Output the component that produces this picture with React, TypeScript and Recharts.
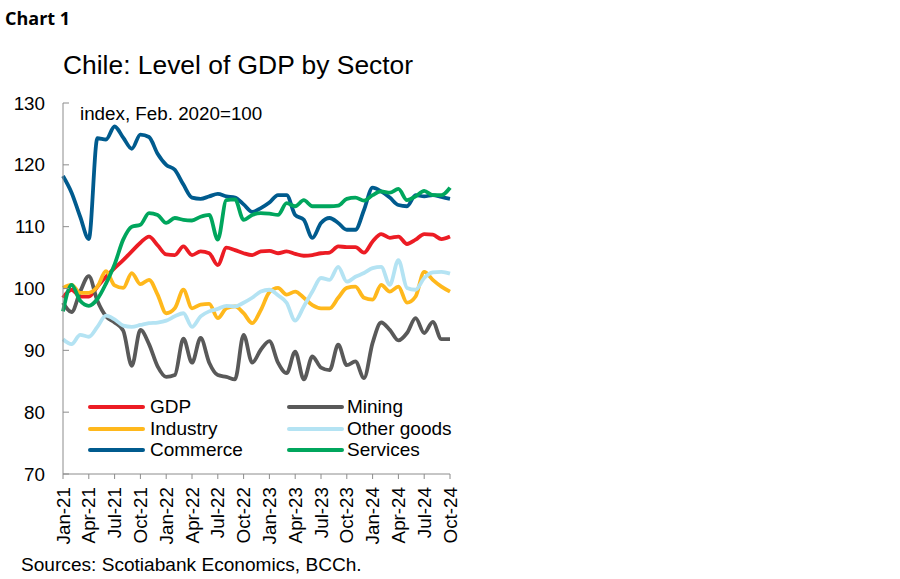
import React from 'react';
import { LineChart, Line, XAxis, YAxis } from 'recharts';

const months = [
  'Jan-21', 'Feb-21', 'Mar-21', 'Apr-21', 'May-21', 'Jun-21', 'Jul-21', 'Aug-21', 'Sep-21', 'Oct-21', 'Nov-21', 'Dec-21',
  'Jan-22', 'Feb-22', 'Mar-22', 'Apr-22', 'May-22', 'Jun-22', 'Jul-22', 'Aug-22', 'Sep-22', 'Oct-22', 'Nov-22', 'Dec-22',
  'Jan-23', 'Feb-23', 'Mar-23', 'Apr-23', 'May-23', 'Jun-23', 'Jul-23', 'Aug-23', 'Sep-23', 'Oct-23', 'Nov-23', 'Dec-23',
  'Jan-24', 'Feb-24', 'Mar-24', 'Apr-24', 'May-24', 'Jun-24', 'Jul-24', 'Aug-24', 'Sep-24', 'Oct-24',
];

const gdp = [
  98.5, 99.8, 98.7, 98.7, 100.3, 101.9, 103.3, 104.6, 106.0, 107.4, 108.4, 107.0,
  105.5, 105.4, 106.8, 105.4, 106.0, 105.7, 103.8, 106.6, 106.2, 105.7, 105.4, 106.0,
  106.1, 105.7, 106.0, 105.6, 105.3, 105.4, 105.7, 105.8, 106.8, 106.7, 106.7, 105.8,
  107.6, 108.8, 108.2, 108.4, 107.2, 107.9, 108.8, 108.7, 108.0, 108.4,
];

const mining = [
  97.7, 96.2, 99.5, 102.0, 98.0, 95.5, 94.5, 93.2, 87.5, 93.3, 91.0, 87.4,
  85.7, 86.0, 91.9, 88.0, 92.0, 88.0, 86.0, 85.7, 85.3, 92.5, 88.0, 90.1,
  91.5, 88.0, 86.3, 89.8, 85.3, 89.0, 87.2, 86.8, 90.9, 87.6, 88.2, 85.5,
  91.2, 94.5, 93.3, 91.6, 92.8, 95.2, 92.8, 94.6, 91.8, 91.8,
];

const industry = [
  100.1, 100.6, 99.3, 99.3, 100.3, 102.8, 100.5, 100.1, 102.5, 100.7, 101.4, 99.0,
  96.0, 96.8, 99.8, 96.8, 97.4, 97.5, 95.2, 96.8, 97.1, 96.0, 94.4, 96.5,
  99.4, 100.1, 99.0, 99.5, 98.5, 97.3, 96.8, 96.8, 98.5, 100.1, 100.3, 98.5,
  98.2, 100.6, 99.5, 100.3, 97.7, 98.7, 102.7, 101.4, 100.3, 99.5,
];

const otherGoods = [
  91.8, 91.0, 92.5, 92.2, 93.8, 95.6, 95.0, 94.0, 93.8, 94.1, 94.4, 94.5,
  94.8, 95.5, 96.0, 93.8, 95.5, 96.3, 96.7, 97.2, 97.1, 97.7, 98.5, 99.5,
  99.8, 98.9, 97.7, 94.8, 97.1, 99.5, 101.7, 101.4, 103.5, 101.1, 101.9, 102.5,
  103.3, 103.5, 100.6, 104.6, 100.1, 99.8, 101.7, 102.6, 102.7, 102.4,
];

const commerce = [
  118.2, 115.5, 111.6, 108.0, 124.3, 124.1, 126.2, 124.4, 122.6, 124.9, 124.5, 121.8,
  120.0, 119.2, 116.8, 114.7, 114.5, 114.9, 115.3, 114.9, 114.7, 113.6, 112.4, 113.0,
  113.9, 115.1, 115.1, 111.9, 111.1, 108.2, 110.6, 111.4, 110.6, 109.5, 109.5, 112.7,
  116.3, 115.7, 114.7, 113.5, 113.3, 115.1, 114.9, 115.1, 114.8, 114.5,
];

const services = [
  96.3, 100.6, 98.0, 97.2, 98.3, 100.8, 103.9, 107.9, 110.0, 110.3, 112.2, 111.9,
  110.6, 111.4, 111.1, 111.0, 111.6, 111.9, 107.9, 114.3, 114.4, 111.1, 111.9, 112.2,
  112.1, 111.9, 113.8, 113.3, 114.3, 113.3, 113.3, 113.3, 113.4, 114.5, 114.7, 114.2,
  115.1, 115.7, 115.5, 116.1, 114.3, 114.9, 115.8, 115.1, 115.1, 116.3,
];

const yTicks = [70, 80, 90, 100, 110, 120, 130];

const seriesNames = ['GDP', 'Mining', 'Industry', 'Other goods', 'Commerce', 'Services'];
const seriesKeys = ['gdp', 'mining', 'industry', 'otherGoods', 'commerce', 'services'];
const seriesColors = ['#EC1C24', '#595959', '#FFB81C', '#B4E3F3', '#005B8E', '#00A65D'];
const seriesValues = [gdp, mining, industry, otherGoods, commerce, services];

const data = months.map((m, i) => {
  const row: Record<string, any> = { month: m };
  seriesKeys.forEach((k, s) => {
    row[k] = seriesValues[s][i];
  });
  return row;
});

const FONT = '"Liberation Sans", Arial, sans-serif';
const AXIS_COLOR = '#8c8c8c';
const TICK_FONT = 18.8;

const YTick = (props: any) => {
  const { x, y, payload } = props;
  return (
    <g>
      <line x1={x + 18} x2={x + 24} y1={y} y2={y} stroke={AXIS_COLOR} strokeWidth={1} />
      <text x={x} y={y} dy="0.35em" textAnchor="end" fontSize={TICK_FONT} fill="#000" fontFamily={FONT}>
        {payload.value}
      </text>
    </g>
  );
};

const XTick = (props: any) => {
  const { x, y, payload } = props;
  return (
    <g>
      <line x1={x} x2={x} y1={y} y2={y + 5} stroke={AXIS_COLOR} strokeWidth={1} />
      <text
        transform={`translate(${x},${y + 13}) rotate(-90)`}
        dy="0.35em"
        textAnchor="end"
        fontSize={TICK_FONT}
        fill="#000"
        fontFamily={FONT}
      >
        {payload.value}
      </text>
    </g>
  );
};

const legendRows = [0, 1, 2];
const legendCols = [
  { lineLeft: 88, lineWidth: 57, textLeft: 150 },
  { lineLeft: 287, lineWidth: 57, textLeft: 347 },
];

export default function App() {
  return (
    <div
      style={{
        position: 'absolute',
        left: 0,
        top: 0,
        width: 900,
        height: 579,
        background: '#fff',
        fontFamily: FONT,
        overflow: 'hidden',
      }}
    >
      <LineChart
        width={900}
        height={579}
        data={data}
        margin={{ top: 103, right: 450, bottom: 0, left: 0 }}
      >
        <XAxis
          dataKey="month"
          interval={2}
          height={105}
          tickSize={0}
          tickMargin={0}
          tickLine={false}
          axisLine={{ stroke: AXIS_COLOR, strokeWidth: 1 }}
          tick={<XTick />}
        />
        <YAxis
          domain={[70, 130]}
          ticks={yTicks}
          width={63}
          tickSize={0}
          tickMargin={18}
          tickLine={false}
          axisLine={{ stroke: AXIS_COLOR, strokeWidth: 1 }}
          tick={<YTick />}
          interval={0}
        />
        {seriesKeys.map((k, s) => (
          <Line
            key={k}
            type="monotone"
            dataKey={k}
            name={seriesNames[s]}
            stroke={seriesColors[s]}
            strokeWidth={3.8}
            dot={false}
            activeDot={false}
            isAnimationActive={false}
          />
        ))}
      </LineChart>

      <svg
        width={900}
        height={579}
        style={{ position: 'absolute', left: 0, top: 0, pointerEvents: 'none' }}
      >
        <text x={5} y={25} fontSize={18} fontWeight="bold" fontFamily='"Open Sans", "Noto Sans", sans-serif' fill="#000">
          Chart 1
        </text>
        <text x={63} y={74} fontSize={26.4} fontFamily={FONT} fill="#000">
          Chile: Level of GDP by Sector
        </text>
        <text x={80} y={120} fontSize={TICK_FONT} fontFamily={FONT} fill="#000">
          index, Feb. 2020=100
        </text>
        <text x={21} y={571} fontSize={19.1} fontFamily={FONT} fill="#000">
          Sources: Scotiabank Economics, BCCh.
        </text>
      </svg>

      {legendRows.map((r) =>
        legendCols.map((c, ci) => {
          const s = r * 2 + ci;
          const cy = 407 + r * 21.5;
          return (
            <React.Fragment key={`${r}-${ci}`}>
              <div
                style={{
                  position: 'absolute',
                  left: c.lineLeft,
                  top: cy - 2,
                  width: c.lineWidth,
                  height: 4,
                  background: seriesColors[s],
                  borderRadius: 2,
                }}
              />
              <div
                style={{
                  position: 'absolute',
                  left: c.textLeft,
                  top: cy - 11,
                  height: 22,
                  lineHeight: '22px',
                  fontSize: 19,
                  color: '#000',
                  whiteSpace: 'nowrap',
                }}
              >
                {seriesNames[s]}
              </div>
            </React.Fragment>
          );
        })
      )}
    </div>
  );
}
